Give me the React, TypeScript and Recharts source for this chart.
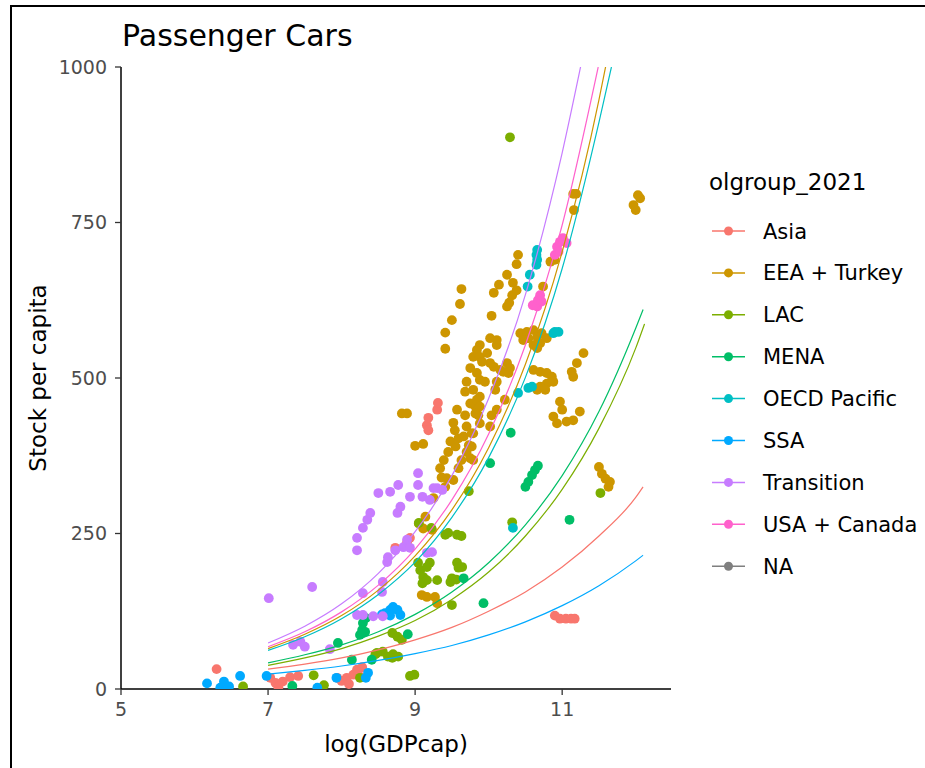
import React from "react";
import { ComposedChart, Scatter, XAxis, YAxis } from "recharts";

const groups = [
  "Asia",
  "EEA + Turkey",
  "LAC",
  "MENA",
  "OECD Pacific",
  "SSA",
  "Transition",
  "USA + Canada",
  "NA",
];
const colors = [
  "#F8766D",
  "#CD9600",
  "#7CAE00",
  "#00BE67",
  "#00BFC4",
  "#00A9FF",
  "#C77CFF",
  "#FF61CC",
  "#7F7F7F",
];
const xTicks = [5, 7, 9, 11];
const yTicks = [0, 250, 500, 750, 1000];

// observed points: [log(GDPcap), stock per capita]
const asiaPts = [
  [6.3, 32], [7.03, 18], [7.1, 10], [7.14, 3], [7.2, 12], [7.3, 19], [7.41, 21],
  [7.94, 18], [8.0, 13], [8.07, 18], [8.16, 23], [8.21, 31], [8.28, 35], [8.1, 8],
  [8.25, 20], [8.73, 227], [8.89, 235], [8.93, 243], [9.16, 424], [9.18, 416],
  [9.18, 436], [9.3, 449], [9.31, 460], [10.9, 118], [10.97, 113], [11.05, 113],
  [11.12, 113], [11.17, 113],
];
const eeaPts = [
  [12.03, 794], [12.06, 789], [11.97, 778], [12.0, 770], [11.15, 796], [11.19, 796],
  [11.16, 770], [10.4, 698], [10.38, 683], [10.25, 666], [10.14, 650], [10.07, 637],
  [10.33, 653], [10.32, 633], [10.28, 621], [10.38, 641], [10.84, 687], [10.74, 647],
  [10.04, 600], [10.25, 615], [10.9, 690], [9.63, 643], [9.61, 619], [9.5, 593],
  [9.41, 573], [9.41, 547], [10.02, 564], [10.11, 561], [9.88, 553], [9.84, 545],
  [9.79, 534], [9.88, 534], [9.98, 540], [10.02, 524], [9.75, 516], [9.84, 508],
  [9.7, 494], [9.88, 497], [9.95, 494], [9.79, 481], [9.68, 478], [9.88, 470],
  [10.11, 553], [10.16, 513], [10.25, 524], [10.27, 508], [10.11, 494], [10.09, 481],
  [9.91, 526], [10.07, 518], [10.29, 516], [10.2, 510], [9.82, 454], [9.86, 440],
  [10.04, 440], [10.02, 422], [9.79, 411], [9.77, 390], [9.79, 368], [10.22, 465],
  [10.11, 449], [10.43, 572], [10.52, 574], [10.61, 577], [10.54, 564], [10.47, 561],
  [10.66, 566], [10.72, 572], [10.79, 564], [10.7, 556], [10.61, 553], [10.66, 548],
  [10.61, 513], [10.7, 510], [10.79, 508], [10.86, 502], [10.79, 491], [10.7, 486],
  [10.66, 481], [10.88, 494], [10.77, 481], [11.29, 540], [11.2, 524], [11.13, 510],
  [11.15, 502], [10.97, 462], [11.0, 449], [10.88, 438], [10.93, 427], [11.06, 430],
  [11.15, 432], [11.24, 446], [11.5, 357], [11.54, 346], [11.59, 338], [11.65, 333],
  [11.63, 325], [8.82, 443], [8.89, 443], [9.0, 391], [9.11, 394], [9.57, 449],
  [9.52, 428], [9.54, 416], [9.59, 403], [9.66, 406], [9.73, 392], [9.7, 381],
  [9.75, 371], [9.45, 381], [9.39, 368], [9.34, 355], [9.43, 339], [9.52, 336],
  [9.41, 325], [9.59, 355], [9.25, 307], [9.14, 277], [9.05, 266], [9.11, 258],
  [9.23, 256], [9.75, 459], [9.84, 465], [9.88, 454], [9.82, 443], [9.88, 427],
  [9.7, 422], [9.77, 411], [9.09, 151], [9.16, 148], [9.27, 148], [9.3, 138],
  [9.48, 398], [9.63, 368], [9.36, 340], [9.55, 390], [9.68, 440],
];
const lacPts = [
  [6.66, 4], [7.62, 22], [7.76, 6], [8.25, 18], [8.46, 56], [8.56, 60], [8.7, 56],
  [8.69, 50], [8.48, 58], [8.63, 52], [8.77, 52], [8.69, 90], [8.76, 84], [8.82, 79],
  [8.93, 21], [8.99, 23], [9.05, 267], [9.22, 259], [9.41, 248], [9.45, 251],
  [9.57, 248], [9.63, 246], [9.04, 203], [9.07, 191], [9.11, 180], [9.1, 170],
  [9.16, 175], [9.3, 175], [9.2, 203], [9.16, 196], [9.57, 203], [9.59, 195],
  [9.64, 196], [9.5, 178], [9.48, 172], [9.56, 176], [9.5, 135], [9.73, 318],
  [10.32, 268], [10.29, 887], [11.52, 315],
];
const menaPts = [
  [7.33, 5], [7.95, 74], [8.14, 47], [8.41, 47], [8.29, 106], [8.28, 95], [8.25, 87],
  [8.32, 92], [8.33, 114], [8.28, 90], [8.9, 88], [9.66, 178], [9.93, 138],
  [10.02, 363], [10.3, 412], [10.5, 325], [10.54, 333], [10.59, 344], [10.63, 352],
  [10.67, 359], [11.1, 272],
];
const oecdPts = [
  [10.53, 647], [10.56, 666], [10.65, 682], [10.66, 690], [10.65, 698], [10.66, 706],
  [10.88, 572], [10.9, 574], [10.95, 574], [10.4, 476], [10.54, 484], [10.59, 486],
  [10.33, 259],
];
const ssaPts = [
  [6.17, 9], [6.4, 12], [6.47, 4], [6.35, 2], [6.62, 21], [6.98, 21], [7.67, 2],
  [7.93, 18], [8.36, 26], [8.33, 18], [8.59, 122], [8.66, 127], [8.7, 132],
  [8.76, 127], [8.8, 119], [8.55, 120], [8.66, 118],
];
const transitionPts = [
  [7.01, 146], [7.6, 164], [7.34, 71], [7.44, 76], [7.5, 68], [7.84, 64], [8.21, 119],
  [8.29, 119], [8.43, 117], [8.56, 117], [8.29, 154], [8.55, 156], [8.56, 172],
  [8.62, 204], [8.63, 212], [8.73, 223], [8.84, 228], [8.89, 240], [8.93, 227],
  [9.16, 219], [9.23, 220], [8.21, 223], [8.21, 243], [8.29, 259], [8.35, 272],
  [8.39, 283], [8.76, 283], [8.8, 293], [8.5, 315], [8.66, 317], [8.77, 328],
  [8.93, 309], [9.04, 328], [9.04, 347], [9.1, 309], [9.2, 304], [9.3, 323],
  [9.37, 320], [9.25, 323],
];
const usaPts = [
  [10.6, 617], [10.66, 615], [10.67, 625], [10.7, 633], [10.72, 623], [10.9, 698],
  [10.93, 711], [10.95, 703], [10.97, 719], [11.01, 725], [11.06, 717],
];
const naPts: number[][] = [];

// fitted curves
const asiaFit = [
  [7, 32], [7.5, 40], [8, 50], [8.5, 63], [9, 79], [9.5, 99], [10, 125], [10.5, 156],
  [11, 196], [11.5, 246], [12, 308], [12.1, 325],
];
const eeaFit = [
  [7, 65], [7.5, 88], [8, 118], [8.5, 159], [9, 214], [9.5, 288], [10, 388],
  [10.5, 522], [11, 703], [11.5, 947], [11.59, 1000],
];
const lacFit = [
  [7, 38], [7.5, 50], [8, 65], [8.5, 85], [9, 110], [9.5, 144], [10, 188], [10.5, 246],
  [11, 321], [11.5, 419], [12, 548], [12.12, 587],
];
const menaFit = [
  [7, 42], [7.5, 55], [8, 71], [8.5, 92], [9, 120], [9.5, 156], [10, 203], [10.5, 264],
  [11, 343], [11.5, 446], [12, 580], [12.1, 610],
];
const oecdFit = [
  [7, 62], [7.5, 84], [8, 113], [8.5, 152], [9, 204], [9.5, 276], [10, 372],
  [10.5, 501], [11, 676], [11.5, 911], [11.67, 1000],
];
const ssaFit = [
  [7, 24], [7.5, 30], [8, 37], [8.5, 46], [9, 57], [9.5, 70], [10, 87], [10.5, 108],
  [11, 134], [11.5, 166], [12, 206], [12.1, 215],
];
const transitionFit = [
  [7, 74], [7.5, 101], [8, 137], [8.5, 186], [9, 253], [9.5, 343], [10, 467],
  [10.5, 634], [11, 862], [11.25, 1000],
];
const usaFit = [
  [7, 68], [7.5, 92], [8, 124], [8.5, 167], [9, 225], [9.5, 304], [10, 410],
  [10.5, 553], [11, 746], [11.49, 1000],
];

const pointSets = [
  asiaPts, eeaPts, lacPts, menaPts, oecdPts, ssaPts, transitionPts, usaPts, naPts,
];
const fitSets = [
  asiaFit, eeaFit, lacFit, menaFit, oecdFit, ssaFit, transitionFit, usaFit,
];

const toXY = (pts: number[][]) => pts.map(([x, y]) => ({ x, y }));

const FONT = "DejaVu Sans, Arial, sans-serif";

const App = () => {
  return (
    <div
      style={{
        position: "absolute",
        left: 0,
        top: 0,
        width: 925,
        height: 768,
        background: "#fff",
        fontFamily: FONT,
      }}
    >
      <ComposedChart
        width={925}
        height={768}
        margin={{ top: 67, right: 254, bottom: 0, left: 0 }}
        style={{ fontFamily: FONT }}
      >
        <XAxis
          type="number"
          dataKey="x"
          domain={[5, 12.48]}
          ticks={xTicks}
          allowDataOverflow
          height={79}
          tickSize={6}
          tickMargin={8}
          axisLine={{ stroke: "#000", strokeWidth: 1.5 }}
          tickLine={{ stroke: "#333", strokeWidth: 1.3 }}
          tick={{ fontSize: 19, fill: "#4D4D4D" }}
          label={{
            value: "log(GDPcap)",
            position: "insideBottom",
            offset: 16,
            style: { fontSize: 23, fill: "#000" },
          }}
        />
        <YAxis
          type="number"
          dataKey="y"
          domain={[0, 1000]}
          ticks={yTicks}
          allowDataOverflow
          width={121}
          tickSize={6}
          tickMargin={8}
          axisLine={{ stroke: "#000", strokeWidth: 1.5 }}
          tickLine={{ stroke: "#333", strokeWidth: 1.3 }}
          tick={{ fontSize: 19, fill: "#4D4D4D" }}
          label={{
            value: "Stock per capita",
            angle: -90,
            position: "insideLeft",
            offset: 38,
            style: { fontSize: 23, fill: "#000", textAnchor: "middle" },
          }}
        />
        {pointSets.map((pts, i) => (
          <Scatter
            key={`pts-${groups[i]}`}
            name={groups[i]}
            data={toXY(pts)}
            fill={colors[i]}
            isAnimationActive={false}
            shape={(p: any) => (
              <circle cx={p.cx} cy={p.cy} r={4.9} fill={colors[i]} />
            )}
          />
        ))}
        {fitSets.map((fit, i) => (
          <Scatter
            key={`fit-${groups[i]}`}
            name={`${groups[i]} fit`}
            data={toXY(fit)}
            fill={colors[i]}
            line={{ stroke: colors[i], strokeWidth: 1.2 }}
            lineJointType="monotoneX"
            legendType="none"
            isAnimationActive={false}
            shape={() => <g />}
          />
        ))}
      </ComposedChart>

      <svg
        width={925}
        height={768}
        style={{ position: "absolute", left: 0, top: 0, pointerEvents: "none" }}
        fontFamily={FONT}
      >
        <path d="M11,768 V6 H925" fill="none" stroke="#000" strokeWidth={2} />
        <text x={122} y={46} fontSize={30} fill="#000">
          Passenger Cars
        </text>
        <text x={709} y={190} fontSize={23} fill="#000">
          olgroup_2021
        </text>
        {groups.map((g, i) => {
          const cy = 231 + 41.9 * i;
          return (
            <g key={g}>
              <line x1={712} x2={745} y1={cy} y2={cy} stroke={colors[i]} strokeWidth={1.5} />
              <circle cx={728.5} cy={cy} r={4.5} fill={colors[i]} />
              <text x={763} y={cy + 7.5} fontSize={21} fill="#000">
                {g}
              </text>
            </g>
          );
        })}
      </svg>
    </div>
  );
};

export default App;
